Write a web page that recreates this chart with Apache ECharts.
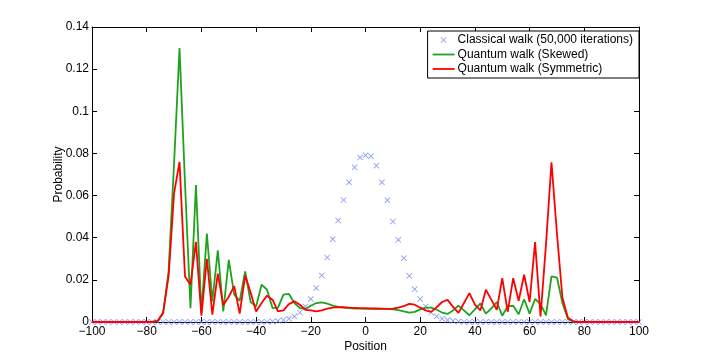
<!DOCTYPE html>
<html>
<head>
<meta charset="utf-8">
<script src="https://cdn.jsdelivr.net/npm/echarts@6/dist/echarts.min.js"></script>
<style>
    html, body { margin: 0; padding: 0; background: #fff; }
    #main { width: 706px; height: 363px; }
</style>
</head>
<body>
<div id="main"></div>
<script>
// positions on the line (even sites only)
var positions = [
    -100, -98, -96, -94, -92, -90, -88, -86, -84, -82,
    -80, -78, -76, -74, -72, -70, -68, -66, -64, -62,
    -60, -58, -56, -54, -52, -50, -48, -46, -44, -42,
    -40, -38, -36, -34, -32, -30, -28, -26, -24, -22,
    -20, -18, -16, -14, -12, -10, -8, -6, -4, -2,
    0,
    2, 4, 6, 8, 10, 12, 14, 16, 18, 20,
    22, 24, 26, 28, 30, 32, 34, 36, 38, 40,
    42, 44, 46, 48, 50, 52, 54, 56, 58, 60,
    62, 64, 66, 68, 70, 72, 74, 76, 78, 80,
    82, 84, 86, 88, 90, 92, 94, 96, 98, 100
];

var classical = [
    0, 0, 0, 0, 0, 0, 0, 0, 0, 0,
    0, 0, 0, 0, 0, 0, 0, 0, 0, 0,
    0, 0, 0, 0, 0, 0, 0, 0, 0, 0,
    0, 0, 0, 0.0002, 0.0005, 0.0009, 0.0016, 0.0027, 0.0045, 0.0074,
    0.0109, 0.0161, 0.0221, 0.0306, 0.0393, 0.0482, 0.0579, 0.0663, 0.0734, 0.0781,
    0.0791,
    0.0787, 0.0742, 0.0663, 0.0578, 0.0477, 0.0390, 0.0303, 0.0219, 0.0156, 0.0109,
    0.0074, 0.0045, 0.0027, 0.0016, 0.0009, 0.0005, 0.0002, 0, 0, 0,
    0, 0, 0, 0, 0, 0, 0, 0, 0, 0,
    0, 0, 0, 0, 0, 0, 0, 0, 0, 0,
    0, 0, 0, 0, 0, 0, 0, 0, 0, 0
];

var skewed = [
    0, 0, 0, 0, 0, 0, 0, 0, 0, 0,
    0, 0, 0.0005, 0.004, 0.024, 0.075, 0.130, 0.066, 0.0066, 0.065,
    0.0043, 0.042, 0.0098, 0.034, 0.005, 0.0295, 0.013, 0.010, 0.024, 0.0095,
    0.0074, 0.0177, 0.0153, 0.0066, 0.0068, 0.013, 0.0133, 0.009, 0.0066, 0.0062,
    0.0077, 0.009, 0.0093, 0.0087, 0.0078, 0.0072, 0.0068, 0.0066, 0.0064, 0.0063,
    0.0062,
    0.0062, 0.0062, 0.0062, 0.0062, 0.006, 0.0056, 0.005, 0.0044, 0.0048, 0.006,
    0.0068, 0.0068, 0.0058, 0.0045, 0.0038, 0.0055, 0.0077, 0.0055, 0.0032, 0.006,
    0.0088, 0.004, 0.0065, 0.0095, 0.003, 0.0075, 0.0077, 0.0037, 0.0108, 0.004,
    0.0109, 0.0085, 0.0032, 0.0216, 0.0211, 0.009, 0.0015, 0.0002, 0, 0,
    0, 0, 0, 0, 0, 0, 0, 0, 0, 0
];

var symmetric = [
    0, 0, 0, 0, 0, 0, 0, 0, 0, 0,
    0, 0, 0.0005, 0.0045, 0.0216, 0.061, 0.076, 0.0216, 0.0177, 0.038,
    0.003, 0.030, 0.0035, 0.023, 0.008, 0.012, 0.017, 0.004, 0.022, 0.014,
    0.005, 0.009, 0.0125, 0.0106, 0.005, 0.0055, 0.0085, 0.0098, 0.0082, 0.0058,
    0.0055, 0.005, 0.0055, 0.0063, 0.0068, 0.0071, 0.007, 0.0068, 0.0067, 0.0066,
    0.0066,
    0.0065, 0.0064, 0.0063, 0.0062, 0.0063, 0.0068, 0.0075, 0.0086, 0.0082, 0.0068,
    0.0055, 0.0048, 0.007, 0.0095, 0.0105, 0.0072, 0.0043, 0.009, 0.0137, 0.0082,
    0.0055, 0.0153, 0.0106, 0.0058, 0.0208, 0.0048, 0.0208, 0.0101, 0.0224, 0.0095,
    0.0379, 0.0027, 0.037, 0.0758, 0.042, 0.0115, 0.002, 0.0003, 0, 0,
    0, 0, 0, 0, 0, 0, 0, 0, 0, 0
];

var seriesNames = ['Classical walk (50,000 iterations)', 'Quantum walk (Skewed)', 'Quantum walk (Symmetric)'];

function pairs(ys) {
    return positions.map(function (x, i) { return [x, ys[i]]; });
}

var font = 'Liberation Sans, Arial, Helvetica, sans-serif';
var crossMark = 'path://M1,0L5,4L9,0L10,1L6,5L10,9L9,10L5,6L1,10L0,9L4,5L0,1Z';
// same cross, padded so the legend draws it small
var crossIcon = 'path://M0,0h0.05v0.05h-0.05Z M20,20h0.05v0.05h-0.05Z M6,5L10,9L14,5L15,6L11,10L15,14L14,15L10,11L6,15L5,14L9,10L5,6Z';
// plain stroke for the line entries
var lineIcon = 'path://M0,0h22v1.8h-22Z';

var myChart = echarts.init(document.getElementById('main'), null, { renderer: 'canvas' });

var tickStyle = { show: true, inside: true, length: 5, lineStyle: { color: '#000', width: 1 } };
var lineStyleAxis = { show: true, onZero: false, lineStyle: { color: '#000', width: 1 } };

option = {
    backgroundColor: '#fff',
    animation: false,
    textStyle: { fontFamily: font },
    grid: { left: 92, right: 67, top: 27, bottom: 41, outerBoundsMode: 'none' },
    legend: {
        orient: 'vertical',
        right: 67,
        top: 31,
        padding: [3, 6, 3, 5],
        itemGap: 2.5,
        itemWidth: 22,
        itemHeight: 12,
        borderColor: '#000',
        borderWidth: 1,
        backgroundColor: '#fff',
        textStyle: { fontFamily: font, fontSize: 12, color: '#000', padding: [0, 0, 0, -2] },
        data: [
            { name: seriesNames[0], icon: crossIcon },
            { name: seriesNames[1], icon: lineIcon },
            { name: seriesNames[2], icon: lineIcon }
        ]
    },
    xAxis: [{
        type: 'value',
        min: -100, max: 100, interval: 20,
        name: 'Position',
        nameLocation: 'middle',
        nameGap: 19,
        nameMoveOverlap: false,
        nameTextStyle: { fontFamily: font, fontSize: 12, color: '#000' },
        axisLine: lineStyleAxis,
        axisTick: tickStyle,
        splitLine: { show: false },
        axisLabel: {
            margin: 4, fontSize: 12, color: '#000', fontFamily: font,
            formatter: function (v) { return String(v).replace('-', '\u2212'); }
        }
    }, {
        type: 'value', position: 'top',
        min: -100, max: 100, interval: 20,
        axisLine: lineStyleAxis,
        axisTick: tickStyle,
        splitLine: { show: false },
        axisLabel: { show: false }
    }],
    yAxis: [{
        type: 'value',
        min: 0, max: 0.14, interval: 0.02,
        name: 'Probability',
        nameLocation: 'middle',
        nameGap: 27,
        nameMoveOverlap: false,
        nameTextStyle: { fontFamily: font, fontSize: 12, color: '#000' },
        axisLine: lineStyleAxis,
        axisTick: tickStyle,
        splitLine: { show: false },
        axisLabel: { margin: 3, fontSize: 12, color: '#000', fontFamily: font }
    }, {
        type: 'value', position: 'right',
        min: 0, max: 0.14, interval: 0.02,
        axisLine: lineStyleAxis,
        axisTick: tickStyle,
        splitLine: { show: false },
        axisLabel: { show: false }
    }],
    series: [{
        name: seriesNames[0],
        type: 'scatter',
        data: pairs(classical),
        symbol: crossMark,
        symbolSize: 6,
        itemStyle: { color: '#6e82f5' },
        silent: true
    }, {
        name: seriesNames[1],
        type: 'line',
        data: pairs(skewed),
        symbol: 'none',
        lineStyle: { color: '#1fa31f', width: 1.8 },
        itemStyle: { color: '#1fa31f' },
        silent: true
    }, {
        name: seriesNames[2],
        type: 'line',
        data: pairs(symmetric),
        symbol: 'none',
        lineStyle: { color: '#ff0000', width: 1.8 },
        itemStyle: { color: '#ff0000' },
        silent: true
    }]
};

myChart.setOption(option);
</script>
</body>
</html>
